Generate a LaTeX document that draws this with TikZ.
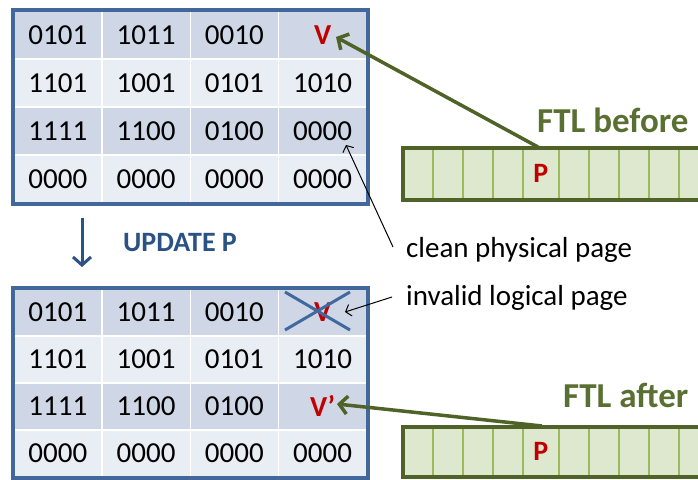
\documentclass[tikz,border=0pt]{standalone}
\usepackage{fontspec}
\setmainfont{Carlito}
\usetikzlibrary{arrows.meta}
\definecolor{tblborder}{HTML}{41679B}
\definecolor{rowdark}{HTML}{CFD7E6}
\definecolor{rowlight}{HTML}{E9EDF4}
\definecolor{vred}{HTML}{C00000}
\definecolor{olivedark}{HTML}{4F6228}
\definecolor{ftltext}{HTML}{5A7033}
\definecolor{ftlfill}{HTML}{DDE8CF}
\definecolor{ftlline}{HTML}{9BBB59}
\definecolor{updblue}{HTML}{2B5285}
\definecolor{xblue}{HTML}{41699E}
\newcommand\vtxt{\textcolor{vred}{\bfseries V}}
\newcommand\vptxt{\textcolor{vred}{\bfseries V’}}
\begin{document}
\begin{tikzpicture}[x=1pt,y=-1pt,
  cellbox/.style={draw=white, line width=1.5pt, inner sep=0pt, anchor=north west,
    minimum width=88.25pt, font=\fontsize{29}{29}\selectfont},
  tblframe/.style={draw=tblborder, line width=4pt},
  ftlcell/.style={draw=ftlline, fill=ftlfill, line width=1.5pt, inner sep=0pt, anchor=north west,
    minimum height=50pt, font=\fontsize{28}{28}\selectfont\bfseries\color{vred}},
  ftlframe/.style={draw=olivedark, line width=4pt},
  ftllabel/.style={anchor=base west, text=ftltext, font=\fontsize{35}{35}\selectfont\bfseries, inner sep=0pt},
  note/.style={anchor=base west, font=\fontsize{29}{29}\selectfont, inner sep=0pt},
  greenarrow/.style={draw=olivedark, line width=3.5pt, -{Straight Barb[length=8pt,width=18pt]}},
  blackarrow/.style={draw=black, line width=1pt, -{Straight Barb[length=5pt,width=12pt]}},
]
\useasboundingbox (0,0) rectangle (698,479);
\clip (0,0) rectangle (698,479);

% top table
\foreach \r/\a/\b/\c/\d in {1/0101/1011/0010/\vtxt, 2/1101/1001/0101/1010, 3/1111/1100/0100/0000, 4/0000/0000/0000/0000} {
  \ifodd\r\def\rc{rowdark}\else\def\rc{rowlight}\fi
  \pgfmathsetmacro\yy{10+(\r-1)*48}
  \node[cellbox, fill=\rc, minimum height=48pt] (t\r-1) at (13,\yy) {\a};
  \node[cellbox, fill=\rc, minimum height=48pt] (t\r-2) at (101.25,\yy) {\b};
  \node[cellbox, fill=\rc, minimum height=48pt] (t\r-3) at (189.5,\yy) {\c};
  \node[cellbox, fill=\rc, minimum height=48pt] (t\r-4) at (277.75,\yy) {\d};
}
\draw[tblframe] (t1-1.north west) rectangle (t4-4.south east);

% bottom table
\foreach \r/\a/\b/\c/\d in {1/0101/1011/0010/\vtxt, 2/1101/1001/0101/1010, 3/1111/1100/0100/\vptxt, 4/0000/0000/0000/0000} {
  \ifodd\r\def\rc{rowdark}\else\def\rc{rowlight}\fi
  \pgfmathsetmacro\yy{288+(\r-1)*47}
  \node[cellbox, fill=\rc, minimum height=47pt] (b\r-1) at (13,\yy) {\a};
  \node[cellbox, fill=\rc, minimum height=47pt] (b\r-2) at (101.25,\yy) {\b};
  \node[cellbox, fill=\rc, minimum height=47pt] (b\r-3) at (189.5,\yy) {\c};
  \node[cellbox, fill=\rc, minimum height=47pt] (b\r-4) at (277.75,\yy) {\d};
}
\draw[tblframe] (b1-1.north west) rectangle (b4-4.south east);

% cross over invalid V
\coordinate (xa) at (285,292);
\coordinate (xb) at (350,330);
\coordinate (xc) at (285,330);
\coordinate (xd) at (350,292);
\draw[xblue, line width=3pt] (xa) -- (xb);
\draw[xblue, line width=3pt] (xc) -- (xd);

% down arrow and label
\coordinate (dstart) at (82,218);
\coordinate (dend) at (82,267);
\draw[draw=updblue, line width=3pt, -{Straight Barb[length=8pt,width=18pt]}] (dstart) -- (dend);
\node[anchor=base west, inner sep=0pt, text=updblue, font=\fontsize{28}{28}\selectfont\bfseries] (upd) at (123,251) {UPDATE P};

% FTL bars
\foreach \i/\xs/\w/\t in {1/403/29/, 2/432/30/, 3/462/30/, 4/492/30/, 5/522/36/P, 6/558/30/, 7/588/30/, 8/618/30/, 9/648/30/, 10/678/30/} {
  \node[ftlcell, minimum width=\w pt] (fb\i) at (\xs,148) {\t};
  \node[ftlcell, minimum width=\w pt, minimum height=48pt] (fa\i) at (\xs,427) {\t};
}
\draw[ftlframe] (fb1.north west) rectangle (fb10.south east);
\draw[ftlframe] (fa1.north west) rectangle (fa10.south east);

\node[ftllabel] (ftlb) at (537,132) {FTL before};
\node[ftllabel] (ftla) at (563,407) {FTL after};

% green arrows
\coordinate (pb) at (538,147);
\coordinate (vtip) at (336,37);
\draw[greenarrow] (pb) -- (vtip);
\coordinate (pa) at (542,426);
\coordinate (vptip) at (337,404);
\draw[greenarrow] (pa) -- (vptip);

% notes
\node[note] (clean) at (406,257) {clean physical page};
\node[note] (invalid) at (406,305) {invalid logical page};
\coordinate (cs) at (393,247);
\coordinate (ct) at (346,145);
\draw[blackarrow] (cs) -- (ct);
\coordinate (is) at (392,297);
\coordinate (it) at (345,312);
\draw[blackarrow] (is) -- (it);
\end{tikzpicture}
\end{document}
